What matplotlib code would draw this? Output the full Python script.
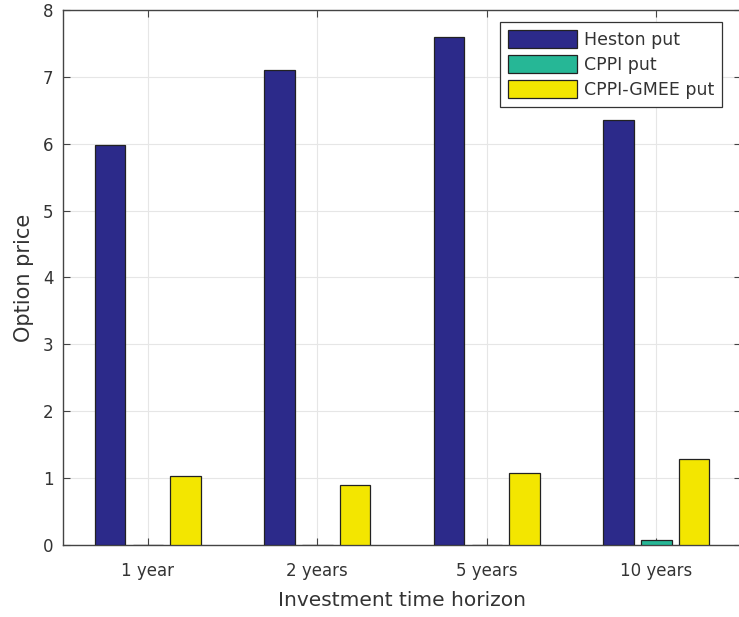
import numpy as np
import matplotlib
matplotlib.use("Agg")
import matplotlib.pyplot as plt

plt.rcParams['font.family'] = ['DejaVu Sans']

categories = ["1 year", "2 years", "5 years", "10 years"]
series_names = ["Heston put", "CPPI put", "CPPI-GMEE put"]
heston_put = [5.98, 7.10, 7.59, 6.36]
cppi_put = [0.003, 0.003, 0.003, 0.07]
cppi_gmee_put = [1.03, 0.90, 1.07, 1.28]
y_ticks = [0, 1, 2, 3, 4, 5, 6, 7, 8]

colors = ["#2c2a8a", "#26b796", "#f3e600"]

fig = plt.figure(figsize=(7.39, 6.17), dpi=100)
ax = fig.add_axes([0.0853, 0.1167, 0.9175, 0.8671])

x = np.arange(1, len(categories) + 1)
width = 0.18
offsets = [-0.223, 0.0, 0.223]
for vals, off, col, name in zip([heston_put, cppi_put, cppi_gmee_put], offsets, colors, series_names):
    ax.bar(x + off, vals, width=width, color=col, edgecolor="#222222",
           linewidth=0.9, label=name, zorder=3)

ax.set_xlim(0.5, 4.5)
ax.set_ylim(0, 8)
ax.set_xticks(x)
ax.set_xticklabels(categories)
ax.set_yticks(y_ticks)
ax.grid(True, color="#e6e6e6", linewidth=0.8, zorder=0)
ax.set_axisbelow(True)
ax.tick_params(direction="in", length=5, width=0.8, color="#444444",
               labelsize=12, labelcolor="#333333", top=True, right=True, pad=7)
ax.tick_params(axis="x", pad=12)
for s in ax.spines.values():
    s.set_color("#444444")
    s.set_linewidth(1.0)

ax.set_xlabel("Investment time horizon", fontsize=14.5, color="#333333", labelpad=8)
ax.set_ylabel("Option price", fontsize=15, color="#333333", labelpad=6)

leg = ax.legend(loc="upper right", bbox_to_anchor=(0.972, 0.978), borderaxespad=0,
                fontsize=12.5, fancybox=False, framealpha=1, edgecolor="#333333",
                handlelength=4.0, handleheight=1.25, handletextpad=0.4,
                labelspacing=0.35, borderpad=0.45, labelcolor="#333333")
leg.get_frame().set_linewidth(0.9)

fig.savefig("out.png", dpi=100)
